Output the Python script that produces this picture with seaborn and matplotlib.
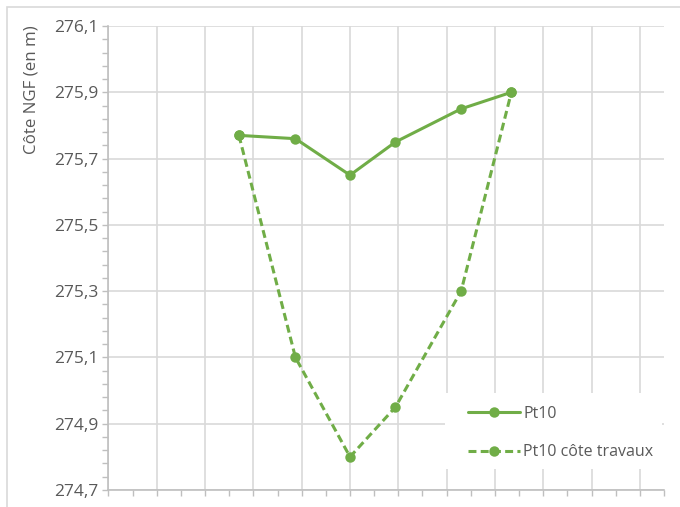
import matplotlib
matplotlib.use('Agg')
import matplotlib.pyplot as plt
import seaborn as sns
import numpy as np
from matplotlib.ticker import MultipleLocator, FuncFormatter
from matplotlib.patches import Rectangle

# positions along the profile (x axis has no labels) and levels in m NGF
x_pt = [2.70, 3.87, 5.00, 5.94, 7.30, 8.34]
y_pt10 = [275.77, 275.76, 275.65, 275.75, 275.85, 275.90]
y_travaux = [275.77, 275.10, 274.80, 274.95, 275.30, 275.90]
labels = ['Pt10', 'Pt10 côte travaux']

sns.set_style('white')
plt.rcParams['font.family'] = ['Open Sans', 'DejaVu Sans']

W, H = 680, 507
fig = plt.figure(figsize=(W/100, H/100), dpi=100)
ax = fig.add_axes([108.5/W, 1-490/H, (664-108.5)/W, (490-26)/H])

green = '#70AD47'
grid = '#D9D9D9'
txt = '#595959'

sns.lineplot(x=x_pt, y=y_pt10, ax=ax, color=green, lw=2.2, marker='o',
             markersize=7.5, markeredgewidth=0, label=labels[0], sort=False)
sns.lineplot(x=x_pt, y=y_travaux, ax=ax, color=green, lw=2.2, marker='o',
             markersize=7.5, markeredgewidth=0, label=labels[1], sort=False)
ax.lines[1].set_dashes((2.6, 1.4))

ax.set_xlim(0, 11.5)
ax.set_ylim(274.7, 276.1)
ax.xaxis.set_major_locator(MultipleLocator(1))
ax.xaxis.set_minor_locator(MultipleLocator(0.5))
ax.set_yticks(np.arange(274.7, 276.11, 0.2))
ax.set_yticks(np.arange(274.7, 276.1, 0.04), minor=True)
ax.yaxis.set_major_formatter(FuncFormatter(lambda v, p: f'{v:.1f}'.replace('.', ',')))
ax.set_xticklabels([])

ax.grid(True, which='major', color=grid, lw=1.2)
ax.set_axisbelow(True)
for s in ['top', 'right']:
    ax.spines[s].set_visible(False)
for s in ['left', 'bottom']:
    ax.spines[s].set_color('#BFBFBF')
    ax.spines[s].set_linewidth(1.2)
ax.tick_params(axis='y', which='both', direction='out', length=4.5, width=1,
               color='#BFBFBF', labelsize=12.5, labelcolor=txt, pad=3)
ax.tick_params(axis='x', which='both', direction='out', length=4, width=1,
               color='#BFBFBF', bottom=True)
ax.tick_params(axis='y', which='both', left=True)
ax.set_ylabel('')

fig.text(32/W, 1-25/H, 'Côte NGF (en m)', rotation=90, va='top', ha='center',
         fontsize=12.2, color=txt)

# white legend area hiding the grid, like the Excel legend box
ax.add_patch(Rectangle((445/W, 1-469/H), 217/W, 76/H, transform=fig.transFigure,
                       facecolor='white', edgecolor='none', zorder=4, clip_on=False))
leg = ax.legend(loc='upper left', bbox_to_anchor=(458/W, 1-396/H),
                bbox_transform=fig.transFigure, frameon=False, borderaxespad=0,
                borderpad=0.62, handlelength=3.25, handletextpad=0.22,
                labelspacing=1.4, fontsize=11.5)
leg.set_zorder(5)
for t in leg.get_texts():
    t.set_color(txt)

fig.patches.append(Rectangle((7/W, -0.1), 1.1, 1-7/H+0.1, transform=fig.transFigure,
                             fill=False, edgecolor=grid, lw=1.2))

fig.savefig('out.png', dpi=100)
